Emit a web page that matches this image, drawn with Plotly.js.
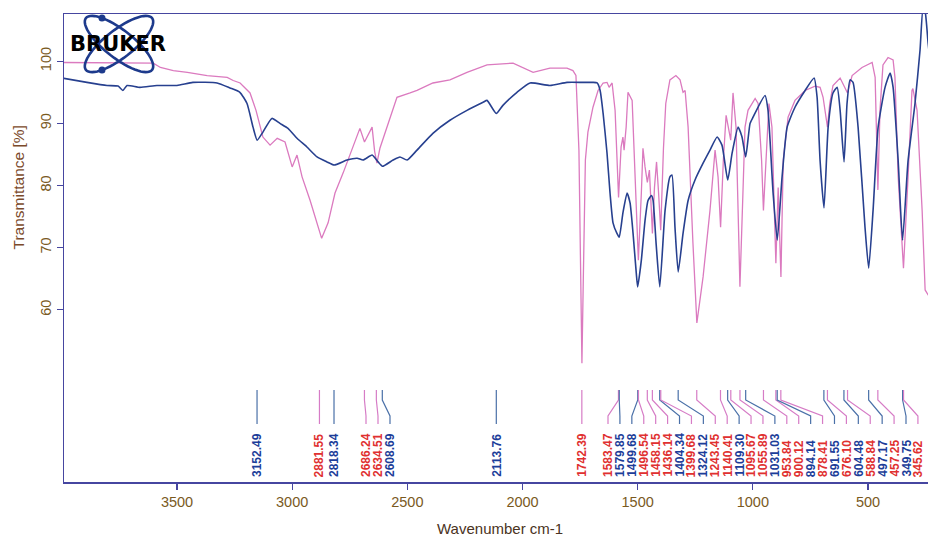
<!DOCTYPE html>
<html><head><meta charset="utf-8">
<script src="https://cdn.plot.ly/plotly-3.0.1.min.js"></script>
<style>html,body{margin:0;padding:0;background:#fff}#chart{width:928px;height:538px}</style>
</head><body><div id="chart"></div>
<script>
// ---- data ----
const pinkWn=[4000,3834,3690,3603,3572,3516,3455,3369,3282,3256,3226,3183,3157,3127,3096,3065,3031,3000,2979,2957,2922,2892,2872,2844,2814,2779,2736,2706,2686,2653,2642,2632,2619,2588,2545,2488,2458,2389,2315,2241,2154,2041,1954,1881,1807,1781,1768,1755,1748,1742,1736,1727,1716,1694,1672,1650,1633,1624,1611,1598,1583,1572,1564,1559,1550,1542,1524,1511,1497,1484,1477,1468,1458,1449,1436,1427,1418,1410,1400,1388,1378,1360,1334,1316,1303,1294,1281,1260,1243,1216,1186,1164,1151,1140,1128,1116,1096,1086,1073,1064,1056,1043,1034,1021,990,977,962,954,940,930,917,906,900,890,878,868,847,817,773,730,708,695,686,676,666,652,621,603,589,569,526,482,469,457,448,435,413,391,383,369,346,326,309,305,287,265,252,239,230];
const pinkT=[99.8,99.8,99.8,99.7,99.0,98.5,98.2,97.7,97.4,96.9,96.5,94.9,92.1,87.8,86.5,87.6,87.0,83.0,84.9,81.4,77.6,74.0,71.5,74.0,78.8,82.0,86.2,89.2,87.0,89.4,85.5,83.6,86.0,89.4,94.2,94.9,95.3,96.5,97.0,98.2,99.4,99.7,98.2,98.9,98.9,98.5,97.7,85.7,65.0,51.4,65.0,84.1,88.6,92.6,95.3,96.5,96.6,95.8,96.5,92.1,78.1,86.2,87.8,85.7,89.4,95.0,93.7,81.4,68.0,78.8,86.0,83.0,80.5,82.5,72.3,79.7,83.8,79.3,72.8,86.0,93.2,97.0,97.7,97.0,95.0,95.3,89.4,70.7,57.9,65.3,76.0,85.7,81.4,73.3,84.1,91.3,87.3,94.9,89.4,76.0,63.7,78.8,89.4,92.1,94.0,93.2,84.1,76.0,86.8,93.2,89.4,76.0,67.5,79.7,65.3,84.1,91.0,93.7,95.3,96.0,95.8,94.2,92.0,89.4,93.2,96.1,97.3,96.0,94.9,97.7,99.0,99.8,97.4,79.3,92.1,99.4,100.6,100.2,97.4,81.4,66.7,81.4,95.3,95.6,92.1,76.0,63.2,62.4,62.0];

const blueWn=[4000,3891,3804,3756,3735,3717,3661,3587,3500,3431,3326,3270,3227,3196,3170,3152,3127,3088,3053,3018,2979,2936,2892,2849,2818,2762,2718,2692,2653,2627,2608,2562,2532,2501,2458,2389,2315,2241,2171,2154,2114,2085,2024,1967,1881,1807,1737,1694,1676,1663,1650,1633,1620,1607,1590,1580,1564,1546,1533,1520,1506,1500,1484,1468,1455,1440,1433,1420,1404,1381,1360,1351,1338,1324,1303,1281,1251,1216,1186,1155,1134,1109,1090,1064,1047,1031,1012,999,947,934,912,894,873,851,817,773,734,721,708,691,673,652,634,621,604,591,578,565,543,513,497,478,456,426,404,391,369,350,326,296,274,261,252,239,230];
const blueT=[97.3,96.6,96.1,96.0,95.3,96.1,95.8,96.1,96.1,96.6,96.5,95.7,95.0,93.2,89.4,87.3,88.6,90.8,90.0,89.2,87.6,86.2,84.6,83.8,83.3,84.1,84.4,84.1,84.9,83.8,83.1,84.1,84.6,84.1,85.7,88.4,90.5,92.1,93.4,93.7,91.6,92.9,95.0,96.5,96.1,96.6,96.6,96.6,96.5,95.3,91.6,85.2,78.8,74.0,72.3,71.7,75.6,78.8,77.2,72.3,65.9,63.7,68.0,74.4,77.6,78.4,77.6,70.7,63.7,76.0,81.4,81.7,73.3,66.1,72.3,77.6,80.9,83.6,85.7,87.8,86.5,80.9,85.2,89.4,87.8,84.6,90.0,91.0,94.5,92.1,78.8,71.2,81.4,89.4,92.6,95.3,97.3,94.2,84.0,76.4,89.4,94.9,95.8,92.1,83.8,93.2,97.0,96.6,89.4,73.3,66.7,76.0,89.4,95.8,98.1,95.8,84.0,71.2,84.0,93.2,101.8,108.5,108.0,102.9,100.0];

const peakWn=[3152.49,2881.55,2818.34,2686.24,2634.51,2608.69,2113.76,1742.39,1583.47,1579.85,1499.68,1496.54,1458.15,1436.14,1404.34,1399.68,1324.12,1243.45,1140.41,1109.30,1095.67,1055.89,1031.03,953.84,900.12,894.14,878.41,691.55,676.10,604.48,588.84,497.17,457.25,349.75,345.62];
const peakText=["3152.49","2881.55","2818.34","2686.24","2634.51","2608.69","2113.76","1742.39","1583.47","1579.85","1499.68","1496.54","1458.15","1436.14","1404.34","1399.68","1324.12","1243.45","1140.41","1109.30","1095.67","1055.89","1031.03","953.84","900.12","894.14","878.41","691.55","676.10","604.48","588.84","497.17","457.25","349.75","345.62"];
const peakSeries=["b","p","b","p","p","b","b","p","p","b","b","p","p","p","b","p","b","p","p","b","p","p","b","p","p","b","p","b","p","b","p","b","p","b","p"];

const xTicks=[3500,3000,2500,2000,1500,1000,500];
const yTicks=[60,70,80,90,100];

// ---- layout geometry ----
const W=928,H=538,M={l:64,r:0,t:14,b:56};
const XR=[3990.6,239.5],YR=[32.3,107.6];
const PW=W-M.l-M.r,PH=H-M.t-M.b;
const px2wn=px=>XR[0]+(px-M.l)*(XR[1]-XR[0])/PW;
const wn2px=w=>M.l+(w-XR[0])*PW/(XR[1]-XR[0]);
const py2p=py=>(H-M.b-py)/PH;
const px2p=px=>(px-M.l)/PW;

const FONT='"Liberation Sans", Arial, sans-serif';
const PINK='#db7abf', BLUE='#27408f';
const RED_TXT='#e03030', BLUE_TXT='#1c3d99';
const PINK_LN='#d67cc6', BLUE_LN='#4a70a8';
const AX='#4646a0', TICKTXT='#7a5a1e';

// label slots (pixel x) : spread clusters evenly
const slots=peakWn.map(wn2px);
const clusters=[{from:3,to:5,start:366,step:12},{from:8,to:34,start:608,step:11.92}];
clusters.forEach(c=>{for(let i=c.from;i<=c.to;i++)slots[i]=c.start+(i-c.from)*c.step;});

const shapes=[],annotations=[];
peakWn.forEach((w,i)=>{
  const lx=px2wn(slots[i]);
  shapes.push({type:'path',xref:'x',yref:'paper',
    path:`M ${w},${py2p(390)} L ${w},${py2p(400)} L ${lx},${py2p(416)} L ${lx},${py2p(424)}`,
    line:{color:peakSeries[i]==='p'?PINK_LN:BLUE_LN,width:1.2}});
  annotations.push({x:lx,xref:'x',y:py2p(478),yref:'paper',text:'<b>'+peakText[i]+'</b>',
    textangle:-90,xanchor:'center',yanchor:'bottom',showarrow:false,borderpad:0,
    font:{family:FONT,size:12,color:peakSeries[i]==='p'?RED_TXT:BLUE_TXT}});
});

// Bruker logo: two crossing ellipses + dots + text
function ellipsePath(cx,cy,a,b,deg){
  const th=deg*Math.PI/180;let s='';
  for(let k=0;k<=60;k++){const t=k/60*2*Math.PI;
    const x=cx+a*Math.cos(t)*Math.cos(th)-b*Math.sin(t)*Math.sin(th);
    const y=cy+a*Math.cos(t)*Math.sin(th)+b*Math.sin(t)*Math.cos(th);
    s+=(k?' L ':'M ')+px2p(x)+','+py2p(y);}
  return s+' Z';
}
[38,-38].forEach(d=>shapes.push({type:'path',xref:'paper',yref:'paper',path:ellipsePath(119,44,42,14,d),line:{color:'#1d3a8c',width:2.6}}));
[[102,18],[102,70]].forEach(([x,y])=>shapes.push({type:'circle',xref:'paper',yref:'paper',
  x0:px2p(x-3.5),x1:px2p(x+3.5),y0:py2p(y+3.5),y1:py2p(y-3.5),fillcolor:'#1d3a8c',line:{width:0}}));
annotations.push({x:px2p(118),y:py2p(44),xref:'paper',yref:'paper',text:'<b>BRUKER</b>',showarrow:false,
  xanchor:'center',yanchor:'middle',font:{family:'"DejaVu Sans", sans-serif',size:21,color:'#000'}});

// axis titles
annotations.push({x:px2p(17.5),y:py2p(188),xref:'paper',yref:'paper',text:'Transmittance [%]',textangle:-90,
  showarrow:false,xanchor:'center',yanchor:'middle',font:{family:FONT,size:15.5,color:'#7b4a2a'}});
annotations.push({x:px2p(500),y:py2p(528),xref:'paper',yref:'paper',text:'Wavenumber cm-1',
  showarrow:false,xanchor:'center',yanchor:'middle',font:{family:FONT,size:15,color:'#4a3322'}});

const traces=[
  {x:pinkWn,y:pinkT,type:'scatter',mode:'lines',line:{color:PINK,width:1.3},hoverinfo:'skip'},
  {x:blueWn,y:blueT,type:'scatter',mode:'lines',line:{color:BLUE,width:1.6,shape:'spline',smoothing:0.5},hoverinfo:'skip'}
];
const layout={width:W,height:H,margin:M,paper_bgcolor:'#fff',plot_bgcolor:'#fff',showlegend:false,
  xaxis:{range:XR,tickvals:xTicks,ticktext:xTicks.map(String),ticks:'outside',ticklen:6,tickwidth:1.2,tickcolor:AX,
    showline:true,linecolor:AX,linewidth:1.5,mirror:true,showgrid:false,zeroline:false,
    tickfont:{family:FONT,size:14.5,color:TICKTXT}},
  yaxis:{range:YR,tickvals:yTicks,ticktext:yTicks.map(String),tickangle:-90,ticks:'outside',ticklen:6,tickwidth:1.2,tickcolor:AX,
    showline:true,linecolor:AX,linewidth:1.5,showgrid:false,zeroline:false,
    tickfont:{family:FONT,size:14.5,color:TICKTXT}},
  shapes:shapes,annotations:annotations};
Plotly.newPlot('chart',traces,layout,{staticPlot:true,displayModeBar:false});
</script></body></html>
